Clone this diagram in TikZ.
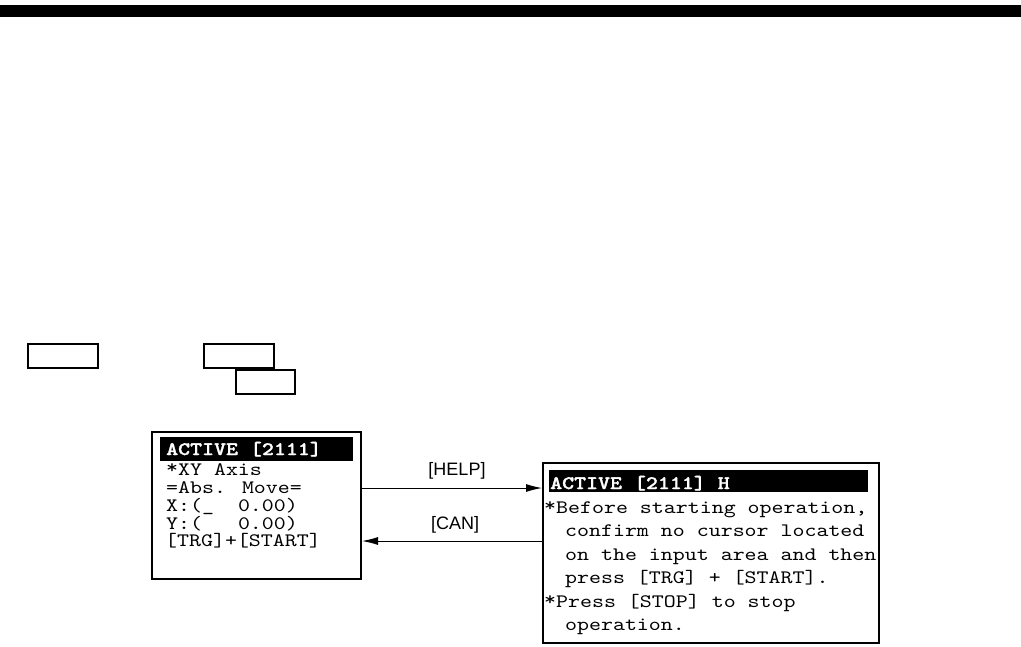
\documentclass[tikz,border=0pt]{standalone}
\usepackage{fontspec}
\setmainfont{Liberation Sans}
\newfontfamily\lcd[FakeStretch=1.2]{lmmono10-regular.otf}
\newfontfamily\lcdb[FakeStretch=1.2,FakeBold=1.6]{lmmonolt10-bold.otf}
\newcommand\lcdstar{\raisebox{1.5pt}{*}}
\usetikzlibrary{arrows.meta}
\begin{document}
\begin{tikzpicture}[x=1pt,y=-1pt,
  lcdtxt/.style={font=\lcd\fontsize{19}{19}\selectfont, inner sep=0pt, anchor=base west},
  hdrtxt/.style={font=\lcdb\fontsize{19}{19}\selectfont, inner sep=0pt, anchor=base west, text=white},
  screen/.style={draw, line width=2pt, inner sep=0pt},
  hdrbar/.style={fill=black, draw=none, inner sep=0pt},
  keybox/.style={draw, line width=1.5pt, inner sep=0pt, minimum height=24pt},
  keylbl/.style={font=\fontsize{18}{18}\selectfont, inner sep=0pt},
  arr/.style={line width=1pt, -{Latex[length=16pt,width=8pt]}}]
\useasboundingbox (0,0) rectangle (1021,646);
% top bar
\fill (0,5) rectangle (1021,17);
% empty key boxes
\node[keybox, minimum width=70pt] (k1) at (63,356) {};
\node[keybox, minimum width=70pt] (k2) at (239,356) {};
\node[keybox, minimum width=59pt] (k3) at (265.5,382) {};
% left screen
\node[screen, minimum width=209pt, minimum height=147pt] (scrA) at (256.5,505.5) {};
\node[hdrbar, minimum width=193pt, minimum height=24pt] (hA) at (256.5,449) {};
\node[hdrtxt] (a0) at (166,455) {ACTIVE [2111]};
\node[lcdtxt] (a1) at (166,475) {\lcdstar XY Axis};
\node[lcdtxt] (a2) at (166,493) {=Abs. Move=};
\node[lcdtxt] (a3) at (166,511) {X:(\_\ \ 0.00)};
\node[lcdtxt] (a4) at (166,529) {Y:(\ \ \ 0.00)};
\node[lcdtxt] (a5) at (165,546.5) {[TRG]+[START]};
% right screen
\node[screen, minimum width=336pt, minimum height=180pt] (scrB) at (711,553) {};
\node[hdrbar, minimum width=319pt, minimum height=22pt] (hB) at (708.5,481) {};
\node[hdrtxt] (b0) at (550,489) {ACTIVE [2111] H};
\node[lcdtxt] (b1) at (544,513) {\lcdstar Before starting operation,};
\node[lcdtxt] (b2) at (553,536.5) {\ confirm no cursor located};
\node[lcdtxt] (b3) at (553,560) {\ on the input area and then};
\node[lcdtxt] (b4) at (553,583.5) {\ press [TRG] + [START].};
\node[lcdtxt] (b5) at (544,607) {\lcdstar Press [STOP] to stop};
\node[lcdtxt] (b6) at (553,630.5) {\ operation.};
% connectors
\coordinate (cH) at (0,488);
\coordinate (cC) at (0,541);
\draw[arr] (scrA.east |- cH) -- (scrB.west |- cH);
\draw[arr] (scrB.west |- cC) -- (scrA.east |- cC);
\node[keylbl] (lh) at (457,471) {[HELP]};
\node[keylbl] (lc) at (455,525) {[CAN]};
\end{tikzpicture}
\end{document}
